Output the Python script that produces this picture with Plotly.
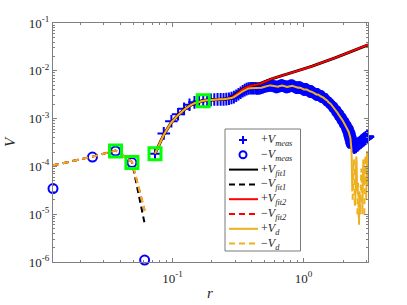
import plotly.graph_objects as go
import math

# ---------------- data ----------------
DR = 0.01225  # radial step of the measurement grid (r_k = k * DR)

# measured V, k = 1..14
V_meas_head = [-3.43e-5, -1.57e-4, -2.10e-4, -1.20e-4, -1.10e-6, 1.85e-4, 4.9e-4, 8.8e-4,
               1.23e-3, 1.60e-3, 1.95e-3, 2.19e-3, 2.30e-3, 2.37e-3]
# V_d, k = 1..14
V_d_head = [-1.05e-4, -1.60e-4, -2.15e-4, -1.25e-4, -1.2e-5, 1.85e-4, 4.6e-4, 8.3e-4,
            1.18e-3, 1.53e-3, 1.85e-3, 2.10e-3, 2.27e-3, 2.36e-3]
# common smooth band (measured and V_d coincide), k = 15..185
V_mid = [2.42e-3, 2.47e-3, 2.51e-3, 2.53e-3, 2.53e-3, 2.53e-3, 2.56e-3, 2.60e-3, 2.69e-3, 2.82e-3,
         3.00e-3, 3.23e-3, 3.47e-3, 3.73e-3, 3.95e-3, 4.14e-3, 4.27e-3, 4.31e-3, 4.33e-3, 4.33e-3,
         4.31e-3, 4.27e-3, 4.27e-3, 4.31e-3, 4.41e-3, 4.52e-3, 4.63e-3, 4.74e-3, 4.83e-3, 4.90e-3,
         4.95e-3, 4.95e-3, 4.90e-3, 4.81e-3, 4.70e-3, 4.61e-3, 4.58e-3, 4.65e-3, 4.74e-3, 4.83e-3,
         4.90e-3, 4.90e-3, 4.86e-3, 4.76e-3, 4.67e-3, 4.61e-3, 4.58e-3, 4.63e-3, 4.70e-3, 4.79e-3,
         4.86e-3, 4.88e-3, 4.86e-3, 4.79e-3, 4.70e-3, 4.58e-3, 4.50e-3, 4.43e-3, 4.41e-3, 4.43e-3,
         4.45e-3, 4.45e-3, 4.43e-3, 4.37e-3, 4.29e-3, 4.18e-3, 4.12e-3, 4.08e-3, 4.08e-3, 4.10e-3,
         4.10e-3, 4.06e-3, 3.99e-3, 3.89e-3, 3.80e-3, 3.73e-3, 3.69e-3, 3.67e-3, 3.67e-3, 3.66e-3,
         3.62e-3, 3.55e-3, 3.48e-3, 3.40e-3, 3.32e-3, 3.26e-3, 3.23e-3, 3.21e-3, 3.21e-3, 3.21e-3,
         3.20e-3, 3.15e-3, 3.09e-3, 3.01e-3, 2.96e-3, 2.92e-3, 2.89e-3, 2.87e-3, 2.86e-3, 2.83e-3,
         2.78e-3, 2.71e-3, 2.63e-3, 2.56e-3, 2.51e-3, 2.49e-3, 2.47e-3, 2.46e-3, 2.43e-3, 2.37e-3,
         2.30e-3, 2.23e-3, 2.16e-3, 2.12e-3, 2.10e-3, 2.08e-3, 2.05e-3, 2.00e-3, 1.94e-3, 1.88e-3,
         1.82e-3, 1.77e-3, 1.75e-3, 1.73e-3, 1.71e-3, 1.67e-3, 1.61e-3, 1.55e-3, 1.50e-3, 1.46e-3,
         1.44e-3, 1.42e-3, 1.39e-3, 1.35e-3, 1.30e-3, 1.25e-3, 1.22e-3, 1.20e-3, 1.18e-3, 1.16e-3,
         1.12e-3, 1.08e-3, 1.04e-3, 1.01e-3, 9.91e-4, 9.76e-4, 9.58e-4, 9.31e-4, 8.95e-4, 8.62e-4,
         8.37e-4, 8.21e-4, 8.09e-4, 7.94e-4, 7.68e-4, 7.38e-4, 7.11e-4, 6.90e-4, 6.80e-4, 6.71e-4,
         6.55e-4, 6.30e-4, 6.00e-4, 5.72e-4, 5.50e-4, 5.32e-4, 5.12e-4, 4.88e-4, 4.61e-4, 4.35e-4,
         4.10e-4]
# measured V, k = 186..253
V_meas_tail = [3.9e-4, 3.7e-4, 3.5e-4, 3.3e-4, 3.1e-4, 2.95e-4, 2.85e-4, 2.75e-4, 2.7e-4, 2.65e-4,
               2.6e-4, 2.55e-4, 2.5e-4, 2.5e-4, 2.55e-4, 2.6e-4, 2.65e-4, 2.6e-4, 2.55e-4, 2.6e-4,
               2.7e-4, 2.8e-4, 2.85e-4, 2.8e-4, 2.75e-4, 2.8e-4, 2.9e-4, 3.0e-4, 3.05e-4, 3.0e-4,
               2.95e-4, 3.0e-4, 3.1e-4, 3.2e-4, 3.25e-4, 3.2e-4, 3.15e-4, 3.2e-4, 3.3e-4, 3.4e-4,
               3.45e-4, 3.4e-4, 3.35e-4, 3.4e-4, 3.5e-4, 3.6e-4, 3.65e-4, 3.6e-4, 3.55e-4, 3.6e-4,
               3.7e-4, 3.8e-4, 3.85e-4, 3.8e-4, 3.75e-4, 3.8e-4, 3.9e-4, 4.0e-4, 4.05e-4, 4.0e-4,
               3.95e-4, 4.0e-4, 4.1e-4, 4.2e-4, 4.2e-4, 4.15e-4, 4.1e-4, 4.15e-4]
# V_d, k = 186..253
V_d_tail = [3.8e-4, 3.4e-4, 2.9e-4, 2.3e-4, 1.6e-4, 9e-5, 3e-5, -2e-5, -6e-5, -1.0e-4,
            -1.3e-4, -1.4e-4, -1.2e-4, -8e-5, -4e-5, -1.5e-5, 1.5e-5, 6e-5, 1.1e-4, 1.5e-4,
            1.6e-4, 1.3e-4, 8e-5, 3e-5, -1e-5, -3e-5, -4.5e-5, -4e-5, -2.2e-5, -8e-6,
            6e-6, 2e-5, 3e-5, 2.4e-5, 1e-5, -1.2e-5, -3e-5, -5.5e-5, -8e-5, -9e-5,
            -7e-5, -4e-5, -1.5e-5, 1e-5, 4e-5, 8e-5, 1.2e-4, 1.4e-4, 1.3e-4, 9e-5,
            4e-5, -1e-5, -6e-5, -1.1e-4, -1.5e-4, -1.7e-4, -1.5e-4, -1.0e-4, -4e-5, 2e-5,
            8e-5, 1.4e-4, 1.9e-4, 2.1e-4, 1.9e-4, 1.4e-4, 8e-5, 4e-5]

# fits, evaluated at grid indices FIT_K
FIT_K = (list(range(1, 31)) + list(range(32, 61, 2)) + list(range(65, 101, 5))
         + list(range(110, 251, 10)) + [253])
V_fit1 = [-1.05e-4, -1.60e-4, -2.15e-4, -1.25e-4, -6.4e-6, 1.85e-4, 4.6e-4, 8.3e-4, 1.18e-3, 1.53e-3,
          1.85e-3, 2.10e-3, 2.27e-3, 2.36e-3, 2.42e-3, 2.47e-3, 2.51e-3, 2.53e-3, 2.53e-3, 2.53e-3,
          2.56e-3, 2.62e-3, 2.75e-3, 2.93e-3, 3.18e-3, 3.48e-3, 3.82e-3, 4.10e-3, 4.33e-3, 4.52e-3,
          4.83e-3, 4.98e-3, 5.07e-3, 5.32e-3, 5.69e-3, 6.09e-3, 6.45e-3, 6.70e-3, 6.93e-3, 7.24e-3,
          7.56e-3, 7.86e-3, 8.05e-3, 8.21e-3, 8.41e-3,
          8.95e-3, 9.53e-3, 1.015e-2, 1.075e-2, 1.133e-2, 1.19e-2, 1.25e-2, 1.31e-2,
          1.44e-2, 1.57e-2, 1.71e-2, 1.84e-2, 1.98e-2, 2.12e-2, 2.26e-2, 2.39e-2, 2.53e-2, 2.67e-2,
          2.82e-2, 2.97e-2, 3.12e-2, 3.29e-2, 3.45e-2, 3.50e-2]
V_fit2 = [-1.05e-4, -1.60e-4, -2.15e-4, -1.25e-4, -1.2e-5, 1.85e-4, 4.6e-4, 8.3e-4, 1.18e-3, 1.53e-3,
          1.85e-3, 2.10e-3, 2.27e-3, 2.36e-3, 2.42e-3, 2.47e-3, 2.51e-3, 2.53e-3, 2.53e-3, 2.53e-3,
          2.56e-3, 2.62e-3, 2.75e-3, 2.93e-3, 3.18e-3, 3.48e-3, 3.82e-3, 4.10e-3, 4.33e-3, 4.52e-3,
          4.83e-3, 4.98e-3, 5.07e-3, 5.32e-3, 5.69e-3, 6.09e-3, 6.45e-3, 6.70e-3, 6.93e-3, 7.24e-3,
          7.56e-3, 7.86e-3, 8.05e-3, 8.21e-3, 8.41e-3,
          8.95e-3, 9.53e-3, 1.015e-2, 1.075e-2, 1.133e-2, 1.19e-2, 1.25e-2, 1.31e-2,
          1.44e-2, 1.57e-2, 1.71e-2, 1.84e-2, 1.98e-2, 2.12e-2, 2.26e-2, 2.39e-2, 2.53e-2, 2.67e-2,
          2.82e-2, 2.97e-2, 3.12e-2, 3.29e-2, 3.45e-2, 3.50e-2]

SEL_K = [3, 4, 6, 14]  # points used for the fit (green squares)

X_TICKS = [0.1, 1]
X_TICK_TEXT = ['10<sup>-1</sup>', '10<sup>0</sup>']
Y_TICKS = [1e-6, 1e-5, 1e-4, 1e-3, 1e-2, 1e-1]
Y_TICK_TEXT = ['10<sup>-6</sup>', '10<sup>-5</sup>', '10<sup>-4</sup>',
               '10<sup>-3</sup>', '10<sup>-2</sup>', '10<sup>-1</sup>']

LEGEND_LABELS = ['+<i>V</i><sub><i>meas</i></sub>', '\u2212<i>V</i><sub><i>meas</i></sub>',
                 '+<i>V</i><sub><i>fit1</i></sub>', '\u2212<i>V</i><sub><i>fit1</i></sub>',
                 '+<i>V</i><sub><i>fit2</i></sub>', '\u2212<i>V</i><sub><i>fit2</i></sub>',
                 '+<i>V</i><sub><i>d</i></sub>', '\u2212<i>V</i><sub><i>d</i></sub>']

# ---------------- derived ----------------
V_meas = V_meas_head + V_mid + V_meas_tail
V_d = V_d_head + V_mid + V_d_tail
r = [DR * (i + 1) for i in range(len(V_meas))]
r_d = [DR * (i + 1) for i in range(len(V_d))]
r_fit = [DR * k for k in FIT_K]


def pos(v):
    return [x if x > 0 else None for x in v]


def neg(v):
    return [-x if x < 0 else None for x in v]


BLUE = '#0000FF'
ORANGE = '#EDB120'
RED = '#FF0000'
BLACK = '#000000'
GREEN = '#00FF00'
DASH = '6px,4px'
FONT = 'Liberation Serif'

fig = go.Figure()
fig.add_trace(go.Scatter(x=r, y=pos(V_meas), mode='markers', cliponaxis=False,
                         marker=dict(symbol='cross-thin', size=9, line=dict(width=2, color=BLUE))))
fig.add_trace(go.Scatter(x=r, y=neg(V_meas), mode='markers', cliponaxis=False,
                         marker=dict(symbol='circle-open', size=9, line=dict(width=2, color=BLUE),
                                     color=BLUE)))
fig.add_trace(go.Scatter(x=r_fit, y=pos(V_fit1), mode='lines', line=dict(color=BLACK, width=3)))
fig.add_trace(go.Scatter(x=r_fit, y=neg(V_fit1), mode='lines',
                         line=dict(color=BLACK, width=2, dash=DASH)))
fig.add_trace(go.Scatter(x=r_fit, y=pos(V_fit2), mode='lines', line=dict(color=RED, width=2)))
fig.add_trace(go.Scatter(x=r_fit, y=neg(V_fit2), mode='lines',
                         line=dict(color=RED, width=2, dash=DASH)))
fig.add_trace(go.Scatter(x=r_d, y=pos(V_d), mode='lines', line=dict(color=ORANGE, width=2)))
fig.add_trace(go.Scatter(x=r_d, y=neg(V_d), mode='lines',
                         line=dict(color=ORANGE, width=2, dash=DASH)))
fig.add_trace(go.Scatter(x=[r[k - 1] for k in SEL_K], y=[abs(V_meas[k - 1]) for k in SEL_K],
                         mode='markers', cliponaxis=False,
                         marker=dict(symbol='square-open', size=12, color=GREEN,
                                     line=dict(width=3, color=GREEN))))

AX = '#808080'
x_minor = [m * 10.0 ** e for e in range(-2, 1) for m in range(2, 10)]
y_minor = [m * 10.0 ** e for e in range(-6, -1) for m in range(2, 10)]
common = dict(type='log', showgrid=False, zeroline=False, showline=True, linecolor=AX,
              linewidth=1, mirror='allticks', ticks='inside', ticklen=4, tickcolor=AX,
              tickfont=dict(family=FONT, size=13, color='#262626'))
fig.update_xaxes(**common, range=[math.log10(r[0]), math.log10(r[-1])],
                 tickmode='array', tickvals=X_TICKS, ticktext=X_TICK_TEXT,
                 ticklabelstandoff=4,
                 minor=dict(tickmode='array', tickvals=x_minor, ticks='inside', ticklen=2,
                            tickcolor=AX, showgrid=False))
fig.update_yaxes(**common, range=[-6, -1], tickmode='array', tickvals=Y_TICKS,
                 ticktext=Y_TICK_TEXT,
                 minor=dict(tickmode='array', tickvals=y_minor, ticks='inside', ticklen=2,
                            tickcolor=AX, showgrid=False))

# ---------------- layout / custom legend ----------------
W, H = 407, 305
ML, MR, MT, MB = 53, 39, 23, 43


def px(x):
    return (x - ML) / (W - ML - MR)


def py(y):
    return (H - MB - y) / (H - MT - MB)


shapes = [dict(type='rect', xref='paper', yref='paper', x0=px(225), x1=px(300.5),
               y0=py(251), y1=py(129), line=dict(color='#7a7a7a', width=1),
               fillcolor='white', layer='above')]
annotations = []
rows = [140 + 14.8 * i for i in range(8)]
styles = [('plus', BLUE, None), ('circle', BLUE, None), ('line', BLACK, 'solid'),
          ('line', BLACK, DASH), ('line', RED, 'solid'), ('line', RED, DASH),
          ('line', ORANGE, 'solid'), ('line', ORANGE, DASH)]
for yy, (kind, col, dash), lab in zip(rows, styles, LEGEND_LABELS):
    if kind == 'plus':
        shapes.append(dict(type='line', xref='paper', yref='paper', x0=px(239), x1=px(247),
                           y0=py(yy), y1=py(yy), line=dict(color=col, width=2)))
        shapes.append(dict(type='line', xref='paper', yref='paper', x0=px(243), x1=px(243),
                           y0=py(yy - 4), y1=py(yy + 4), line=dict(color=col, width=2)))
    elif kind == 'circle':
        shapes.append(dict(type='circle', xref='paper', yref='paper', x0=px(239.5), x1=px(246.5),
                           y0=py(yy + 3.5), y1=py(yy - 3.5), line=dict(color=col, width=2)))
    else:
        shapes.append(dict(type='line', xref='paper', yref='paper', x0=px(229), x1=px(258),
                           y0=py(yy), y1=py(yy), line=dict(color=col, width=2, dash=dash)))
    annotations.append(dict(x=px(259), y=py(yy), xref='paper', yref='paper', text=lab,
                            showarrow=False, xanchor='left', yanchor='middle',
                            font=dict(family=FONT, size=12, color='#262626')))

annotations.append(dict(x=px(10), y=py(142), xref='paper', yref='paper', text='<i>V</i>',
                        showarrow=False, textangle=-90, xanchor='center', yanchor='middle',
                        font=dict(family=FONT, size=15, color='#262626')))
annotations.append(dict(x=px(210), y=py(293), xref='paper', yref='paper', text='<i>r</i>',
                        showarrow=False, xanchor='center', yanchor='middle',
                        font=dict(family=FONT, size=15, color='#262626')))

fig.update_layout(width=W, height=H, margin=dict(l=ML, r=MR, t=MT, b=MB, autoexpand=False),
                  plot_bgcolor='white', paper_bgcolor='white', showlegend=False,
                  hovermode=False, shapes=shapes, annotations=annotations)

# the page body has a default 8px margin; remove it so the figure sits at the window origin
fig.write_html('out.html', config={'displayModeBar': False, 'staticPlot': True},
               post_script="document.body.style.margin='0';")
